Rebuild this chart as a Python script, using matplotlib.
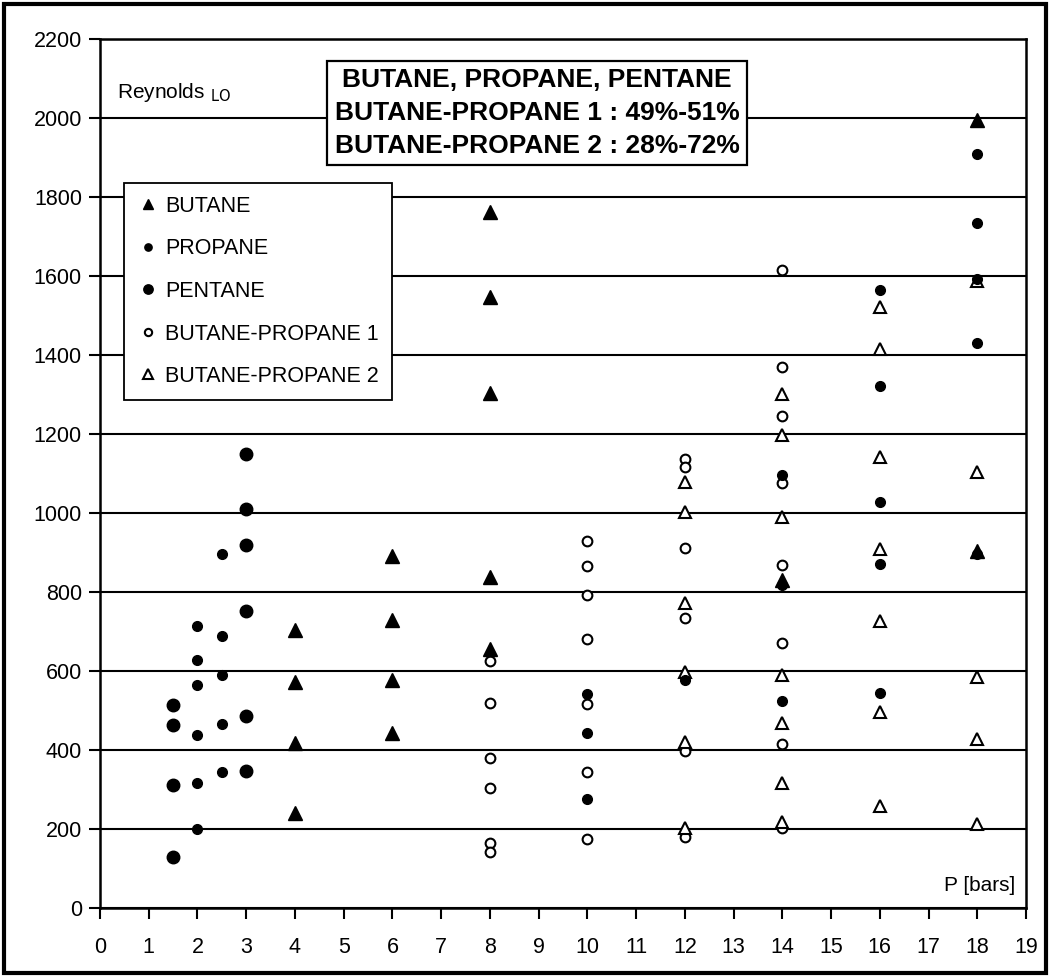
import matplotlib
matplotlib.use("Agg")
import matplotlib.pyplot as plt
from matplotlib.patches import Rectangle

plt.rcParams['font.family'] = ['Liberation Sans', 'DejaVu Sans']

# pressure [bars] and liquid-only Reynolds number, one pair of lists per fluid
butane_p = [4, 4, 4, 4, 6, 6, 6, 6, 8, 8, 8, 8, 8, 14, 18, 18]
butane_re = [705, 572, 417, 241, 892, 730, 578, 442, 1761, 1546, 1303, 837, 656, 830, 1995, 905]

propane_p = [2, 2, 2, 2, 2, 2, 2.5, 2.5, 2.5, 2.5, 2.5,
             10, 10, 10, 12, 14, 14, 14, 16, 16, 16, 16, 16,
             18, 18, 18, 18, 18]
propane_re = [715, 627, 565, 438, 317, 200, 895, 688, 589, 467, 345,
              541, 444, 275, 578, 1097, 818, 524, 1565, 1321, 1029, 872, 544,
              1910, 1733, 1593, 1430, 895]

pentane_p = [1.5, 1.5, 1.5, 1.5, 3, 3, 3, 3, 3, 3]
pentane_re = [514, 463, 311, 130, 1149, 1010, 918, 752, 486, 347]

bp1_p = [8, 8, 8, 8, 8, 8, 10, 10, 10, 10, 10, 10, 10,
         12, 12, 12, 12, 12, 12, 14, 14, 14, 14, 14, 14, 14, 14]
bp1_re = [626, 518, 380, 304, 164, 141, 930, 867, 792, 681, 516, 344, 175,
          1137, 1117, 911, 735, 397, 180, 1616, 1370, 1245, 1077, 868, 671, 414, 203]

bp2_p = [12, 12, 12, 12, 12, 12, 14, 14, 14, 14, 14, 14, 14,
         16, 16, 16, 16, 16, 16, 16, 18, 18, 18, 18, 18]
bp2_re = [1078, 1003, 772, 597, 420, 203, 1301, 1198, 990, 590, 469, 317, 217,
          1521, 1415, 1142, 908, 727, 495, 258, 1587, 1103, 585, 429, 212]

x_ticks = list(range(0, 20))
y_ticks = list(range(0, 2201, 200))

fig = plt.figure(figsize=(10.5, 9.77), dpi=100)
ax = fig.add_axes([100 / 1050, 69 / 977, 926 / 1050, 869 / 977])

ax.plot(butane_p, butane_re, linestyle='none', marker='^', ms=9.5,
        mfc='black', mec='black', label='BUTANE', zorder=4)
ax.plot(propane_p, propane_re, linestyle='none', marker='o', ms=7,
        mfc='black', mec='black', label='PROPANE', zorder=4)
ax.plot(pentane_p, pentane_re, linestyle='none', marker='o', ms=9,
        mfc='black', mec='black', label='PENTANE', zorder=4)
ax.plot(bp1_p, bp1_re, linestyle='none', marker='o', ms=7, mew=1.5,
        mfc='white', mec='black', label='BUTANE-PROPANE 1', zorder=3)
ax.plot(bp2_p, bp2_re, linestyle='none', marker='^', ms=9, mew=1.5,
        mfc='white', mec='black', label='BUTANE-PROPANE 2', zorder=3)

ax.set_xlim(0, 19)
ax.set_ylim(0, 2200)
ax.set_xticks(x_ticks)
ax.set_yticks(y_ticks)
ax.tick_params(axis='x', direction='out', length=8, width=1.5, pad=13, labelsize=15.5)
ax.tick_params(axis='y', direction='out', length=8, width=1.5, pad=5, labelsize=15.5)
ax.yaxis.grid(True, color='black', linewidth=1.5)
ax.set_axisbelow(True)
for side in ['left', 'bottom', 'top', 'right']:
    ax.spines[side].set_linewidth(1.8)
    ax.spines[side].set_color('black')

ax.text(0.018, 0.939, r'Reynolds $_{\mathrm{LO}}$', transform=ax.transAxes,
        fontsize=15, va='center', ha='left')
ax.text(0.988, 0.026, 'P [bars]', transform=ax.transAxes,
        fontsize=15, va='center', ha='right')

fig.text(537 / 1050, 1 - 113 / 977,
         'BUTANE, PROPANE, PENTANE\nBUTANE-PROPANE 1 : 49%-51%\nBUTANE-PROPANE 2 : 28%-72%',
         ha='center', va='center', fontsize=19, fontweight='bold', linespacing=1.45,
         bbox=dict(boxstyle='square,pad=0.3', facecolor='white', edgecolor='black',
                   linewidth=1.6), zorder=5)

leg = ax.legend(loc='upper left', bbox_to_anchor=(124 / 1050, 1 - 183 / 977),
                bbox_transform=fig.transFigure, borderaxespad=0, fancybox=False,
                framealpha=1, edgecolor='black', fontsize=15.5, labelspacing=1.0,
                handletextpad=0.3, handlelength=1.0, borderpad=0.6, markerscale=0.75)
leg.get_frame().set_linewidth(1.3)
leg.set_zorder(6)

# heavy frame around the whole chart
fig.patches.append(Rectangle((0.004, 0.004), 0.992, 0.992, transform=fig.transFigure,
                             fill=False, edgecolor='black', linewidth=3))

fig.savefig('out.png', dpi=100)
